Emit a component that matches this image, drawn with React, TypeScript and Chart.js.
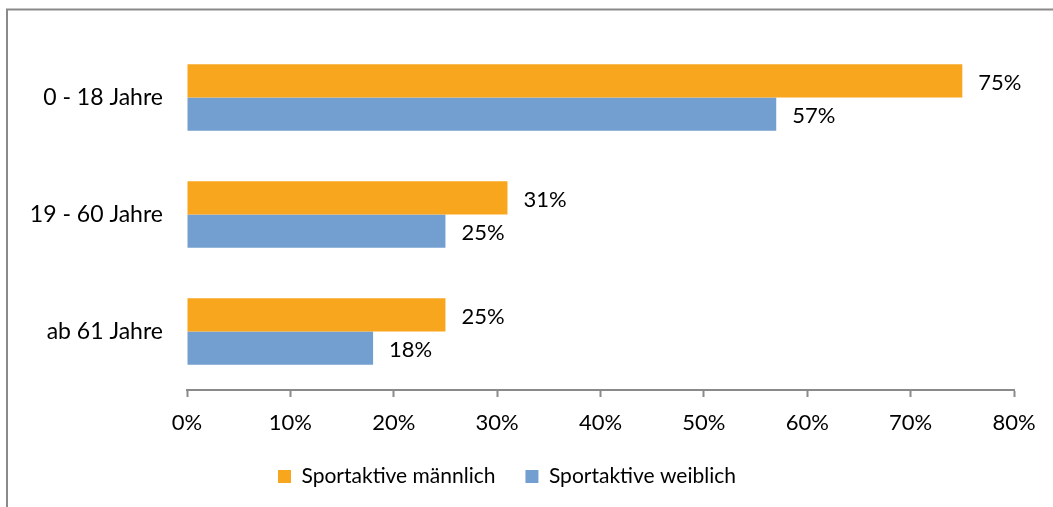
import React, { useEffect, useRef } from "react";
import { Chart, registerables } from "chart.js";

Chart.register(...registerables);

const categories = ["0 - 18 Jahre", "19 - 60 Jahre", "ab 61 Jahre"];
const seriesNames = ["Sportaktive männlich", "Sportaktive weiblich"];
const maleValues = [75, 31, 25];
const femaleValues = [57, 25, 18];
const seriesColors = ["#F9A61F", "#739FD0"];
const axisMax = 80;
const axisStep = 10;

const FONT = "Lato, 'DejaVu Sans', sans-serif";

const framePlugin = {
  id: "frame",
  beforeDraw(chart: any) {
    const ctx = chart.ctx;
    ctx.save();
    ctx.fillStyle = "#ffffff";
    ctx.fillRect(0, 0, chart.width, chart.height);
    ctx.strokeStyle = "#8a8a8a";
    ctx.lineWidth = 2;
    ctx.strokeRect(7, 9.5, chart.width + 50, chart.height + 50);
    ctx.restore();
  },
};

const valueLabelPlugin = {
  id: "valueLabels",
  afterDatasetsDraw(chart: any) {
    const ctx = chart.ctx;
    ctx.save();
    ctx.font = `22px ${FONT}`;
    ctx.fillStyle = "#000000";
    ctx.textAlign = "left";
    ctx.textBaseline = "middle";
    chart.data.datasets.forEach((ds: any, di: number) => {
      const meta = chart.getDatasetMeta(di);
      meta.data.forEach((el: any, i: number) => {
        ctx.fillText(`${ds.data[i]}%`, el.x + 16, el.y + 2);
      });
    });
    ctx.restore();
  },
};

export default function App() {
  const ref = useRef<HTMLCanvasElement>(null);
  useEffect(() => {
    if (!ref.current) return;
    const chart = new Chart(ref.current, {
      type: "bar",
      data: {
        labels: categories,
        datasets: [
          {
            label: seriesNames[0],
            data: maleValues,
            backgroundColor: seriesColors[0],
            barPercentage: 1,
            categoryPercentage: 0.567,
          },
          {
            label: seriesNames[1],
            data: femaleValues,
            backgroundColor: seriesColors[1],
            barPercentage: 1,
            categoryPercentage: 0.567,
          },
        ],
      },
      options: {
        indexAxis: "y",
        responsive: false,
        animation: false,
        devicePixelRatio: 1,
        layout: { padding: { top: 39, right: 39, bottom: 10, left: 0 } },
        scales: {
          x: {
            min: 0,
            max: axisMax,
            afterFit(scale: any) {
              scale.height = 46;
            },
            ticks: {
              stepSize: axisStep,
              padding: 13,
              color: "#000000",
              font: { family: FONT, size: 22 },
              callback: (v: any) => `${v}%`,
            },
            grid: {
              display: true,
              drawOnChartArea: false,
              drawTicks: true,
              tickLength: 7,
              tickWidth: 2,
              tickColor: "#8a8a8a",
            },
            border: { display: true, color: "#8a8a8a", width: 2 },
          },
          y: {
            afterFit(scale: any) {
              scale.width = 187;
            },
            ticks: {
              padding: 24,
              color: "#000000",
              font: { family: FONT, size: 23 },
            },
            grid: { display: false, drawTicks: false },
            border: { display: false },
          },
        },
        plugins: {
          legend: {
            position: "bottom",
            labels: {
              boxWidth: 13,
              boxHeight: 13,
              padding: 30,
              color: "#000000",
              font: { family: FONT, size: 21 },
            },
          },
          tooltip: { enabled: false },
        },
      },
      plugins: [framePlugin, valueLabelPlugin],
    } as any);
    return () => chart.destroy();
  }, []);
  return (
    <div style={{ position: "absolute", left: 0, top: 0, width: 1053, height: 507 }}>
      <canvas ref={ref} width={1053} height={507} />
    </div>
  );
}
